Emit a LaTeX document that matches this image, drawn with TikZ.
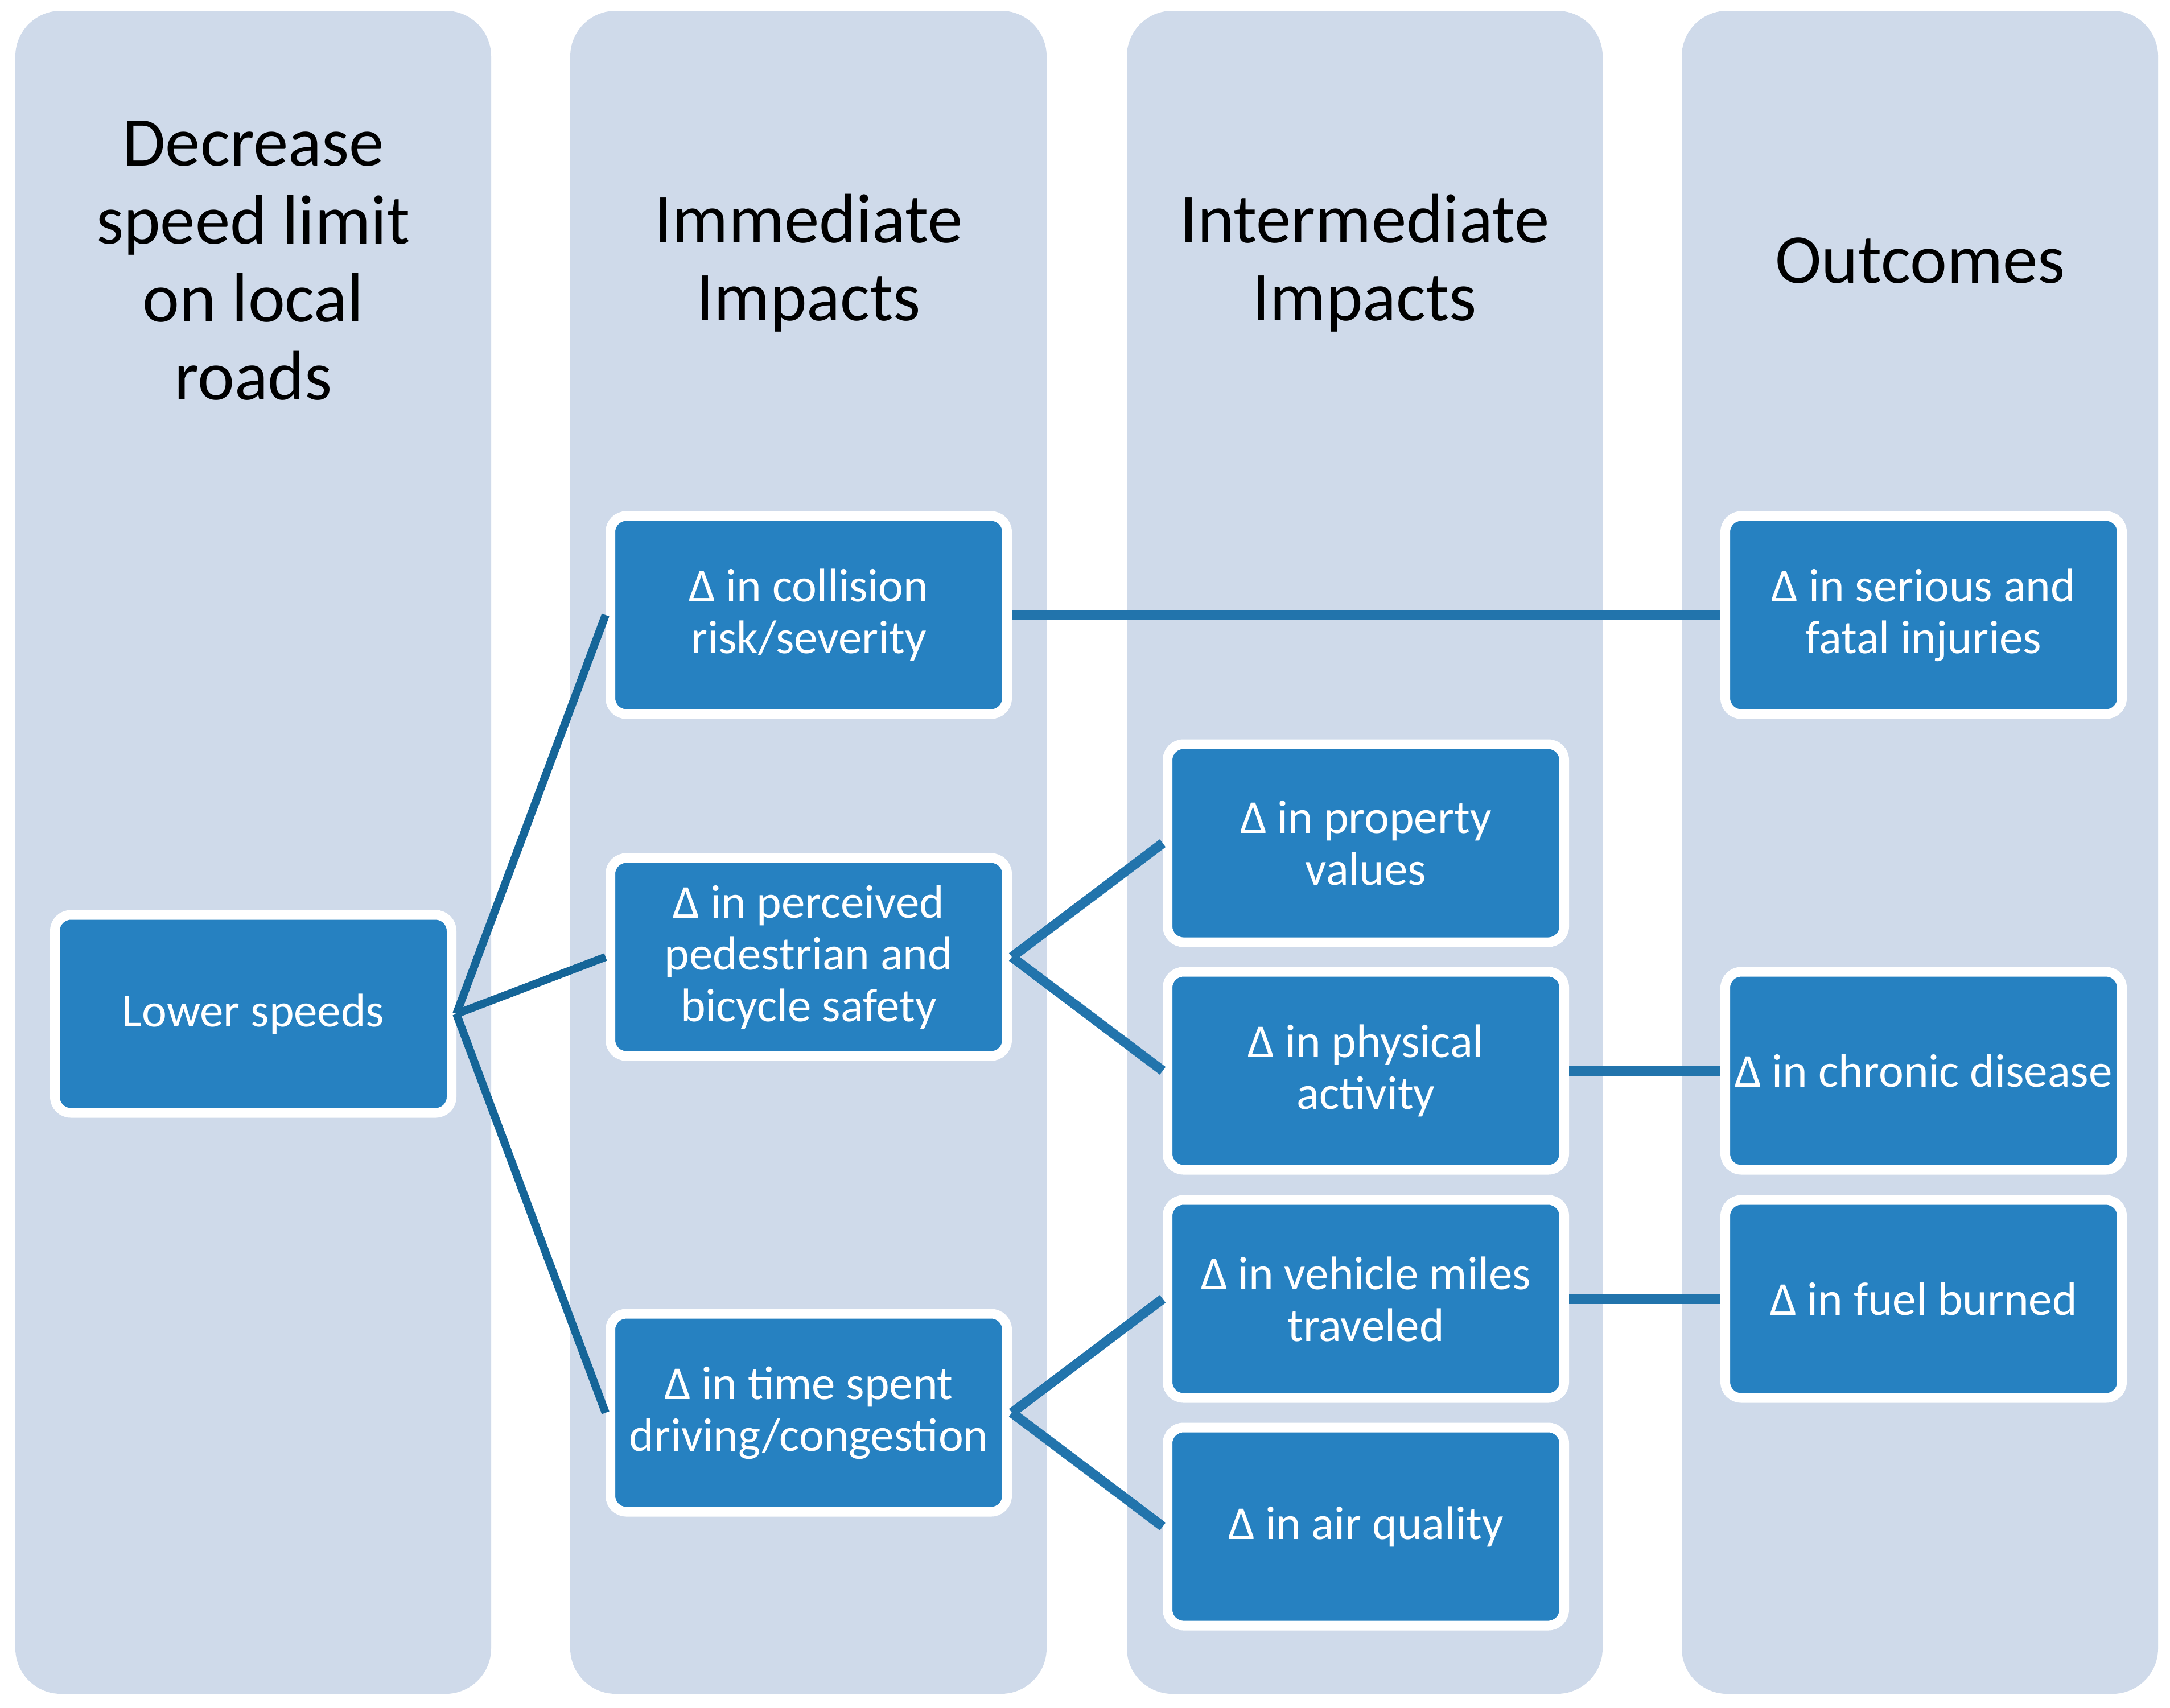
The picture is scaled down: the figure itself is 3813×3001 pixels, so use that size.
\documentclass[tikz,border=0pt]{standalone}
\usepackage{fontspec}
\setmainfont{Carlito}
\definecolor{colbg}{HTML}{CFDAEA}
\definecolor{boxblue}{HTML}{2681C1}
\definecolor{diagline}{HTML}{156598}
\definecolor{hline}{HTML}{2274AC}
\begin{document}
\begin{tikzpicture}[x=1pt,y=-1pt,
  column/.style={fill=colbg, draw=none, rounded corners=80pt},
  header/.style={align=center, text=black, inner sep=0pt, font=\fontsize{123}{137}\selectfont},
  stepbox/.style={rounded corners=28pt, fill=boxblue, draw=white, line width=17pt,
     minimum width=697pt, minimum height=348pt, inner sep=0pt, text=white, align=center,
     font=\fontsize{83}{91}\selectfont},
  diag/.style={draw=diagline, line width=14pt},
  link/.style={draw=hline, line width=17pt}]
\useasboundingbox (0,0) rectangle (3813,3001);
\fill[white] (0,0) rectangle (3813,3001);
% columns
\path[column] (27,19) rectangle (863,2977);
\path[column] (1002,19) rectangle (1839,2977);
\path[column] (1980,19) rectangle (2816,2977);
\path[column] (2955,19) rectangle (3792,2977);
% headers
\node[header] (h1) at (445,458) {Decrease\\speed limit\\on local\\roads};
\node[header] (h2) at (1421,462) {Immediate\\Impacts};
\node[header] (h3) at (2398,462) {Intermediate\\Impacts};
\node[header] (h4) at (3374,458) {Outcomes};
% boxes
\node[stepbox] (low) at (445,1782) {Lower speeds};
\node[stepbox] (coll) at (1421,1081) {Δ in collision\\risk/severity};
\node[stepbox] (perc) at (1421,1682) {Δ in perceived\\pedestrian and\\bicycle safety};
\node[stepbox] (time) at (1421,2483) {Δ in time spent\\driving/congestion};
\node[stepbox] (prop) at (2400,1482) {Δ in property\\values};
\node[stepbox] (phys) at (2400,1882) {Δ in physical\\activity};
\node[stepbox] (veh) at (2400,2283) {Δ in vehicle miles\\traveled};
\node[stepbox] (air) at (2400,2683) {Δ in air quality};
\node[stepbox] (ser) at (3380,1081) {Δ in serious and\\fatal injuries};
\node[stepbox] (chr) at (3380,1882) {Δ in chronic disease};
\node[stepbox] (fuel) at (3380,2283) {Δ in fuel burned};
% connectors
\draw[diag] (low.east) -- (coll.west);
\draw[diag] (low.east) -- (perc.west);
\draw[diag] (low.east) -- (time.west);
\draw[link] (coll.east) -- (ser.west);
\draw[link] (perc.east) -- (prop.west);
\draw[link] (perc.east) -- (phys.west);
\draw[link] (phys.east) -- (chr.west);
\draw[link] (time.east) -- (veh.west);
\draw[link] (time.east) -- (air.west);
\draw[link] (veh.east) -- (fuel.west);
\end{tikzpicture}
\end{document}
